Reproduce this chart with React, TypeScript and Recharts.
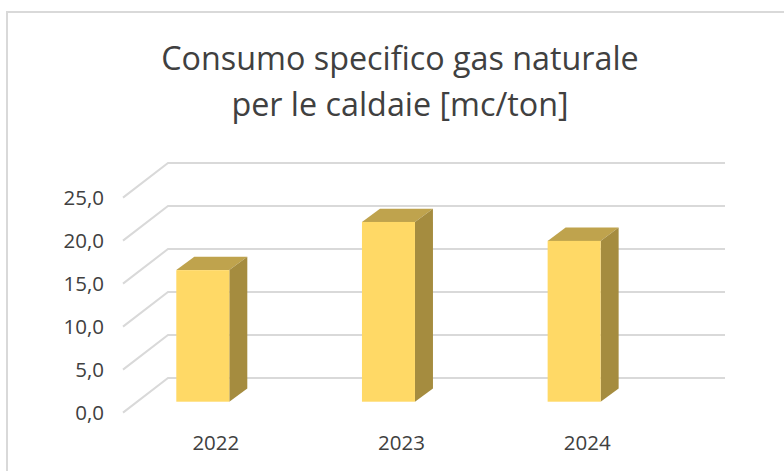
import { BarChart, Bar, XAxis, YAxis, CartesianGrid } from "recharts";

const years = ["2022", "2023", "2024"];
const consumo = [15.3, 20.9, 18.7];
const yTicks = [0, 5, 10, 15, 20, 25];
const titleLines = ["Consumo specifico gas naturale", "per le caldaie [mc/ton]"];

const FONT = "'Open Sans', sans-serif";
const TEXT = "#404040";
const GRID = "#d9d9d9";
// 3d look of the excel chart: wall depth, bar depth, bar offset from the front plane
const WALL_DX = 45;
const WALL_DY = 34.6;
const BAR_DX = 18;
const BAR_DY = 13.3;
const SHIFT_X = -12.7;
const SHIFT_Y = -10.9;

function WallLine(props: any) {
  const { x1, x2, y1 } = props;
  return (
    <polyline
      points={`${x1},${y1} ${x1 + WALL_DX},${y1 - WALL_DY} ${x2 + WALL_DX},${y1 - WALL_DY}`}
      fill="none"
      stroke={GRID}
      strokeWidth={2}
    />
  );
}

function ValueTick(props: any) {
  const { x, y, payload } = props;
  return (
    <text x={x - 19} y={y + 7.5} textAnchor="end" fontSize={20.5} fontFamily={FONT} fill={TEXT}>
      {payload.value.toFixed(1).replace(".", ",")}
    </text>
  );
}

function Bar3d(props: any) {
  const { x, y, width, height } = props;
  const l = x + SHIFT_X;
  const r = l + width;
  const t = y + SHIFT_Y;
  const b = t + height;
  return (
    <g>
      <polygon points={`${l},${t} ${l + BAR_DX},${t - BAR_DY} ${r + BAR_DX},${t - BAR_DY} ${r},${t}`} fill="#bfa34d" />
      <polygon points={`${r},${t} ${r + BAR_DX},${t - BAR_DY} ${r + BAR_DX},${b - BAR_DY} ${r},${b}`} fill="#a58c3f" />
      <rect x={l} y={t} width={width} height={height} fill="#ffd966" />
    </g>
  );
}

export default function App() {
  const data = years.map((year, i) => ({ year, value: consumo[i] }));

  return (
    <div style={{ position: "absolute", left: 0, top: 0, width: 784, height: 471, background: "#fff", overflow: "hidden" }}>
      <div
        style={{
          position: "absolute",
          left: 6,
          top: 11,
          width: 790,
          height: 470,
          borderLeft: `2px solid ${GRID}`,
          borderTop: `2px solid ${GRID}`,
        }}
      />
      <div
        style={{
          position: "absolute",
          left: 0,
          top: 34,
          width: 800,
          textAlign: "center",
          fontFamily: FONT,
          fontSize: 32.3,
          lineHeight: "46px",
          color: TEXT,
        }}
      >
        {titleLines.map((line) => (
          <div key={line}>{line}</div>
        ))}
      </div>
      <BarChart
        width={784}
        height={471}
        data={data}
        margin={{ top: 197.6, right: 104, bottom: 0, left: 0 }}
        style={{ position: "absolute", left: 0, top: 0 }}
      >
        <CartesianGrid vertical={false} horizontal={<WallLine />} />
        <YAxis
          type="number"
          domain={[0, 25]}
          ticks={yTicks}
          width={123}
          axisLine={false}
          tickLine={false}
          tickSize={0}
          tickMargin={0}
          interval={0}
          tick={<ValueTick />}
        />
        <XAxis
          dataKey="year"
          height={58.4}
          axisLine={false}
          tickLine={false}
          tickMargin={17}
          tick={{ fontSize: 20.5, fontFamily: FONT, fill: TEXT }}
        />
        <Bar dataKey="value" barSize={53} shape={<Bar3d />} isAnimationActive={false} />
      </BarChart>
    </div>
  );
}
